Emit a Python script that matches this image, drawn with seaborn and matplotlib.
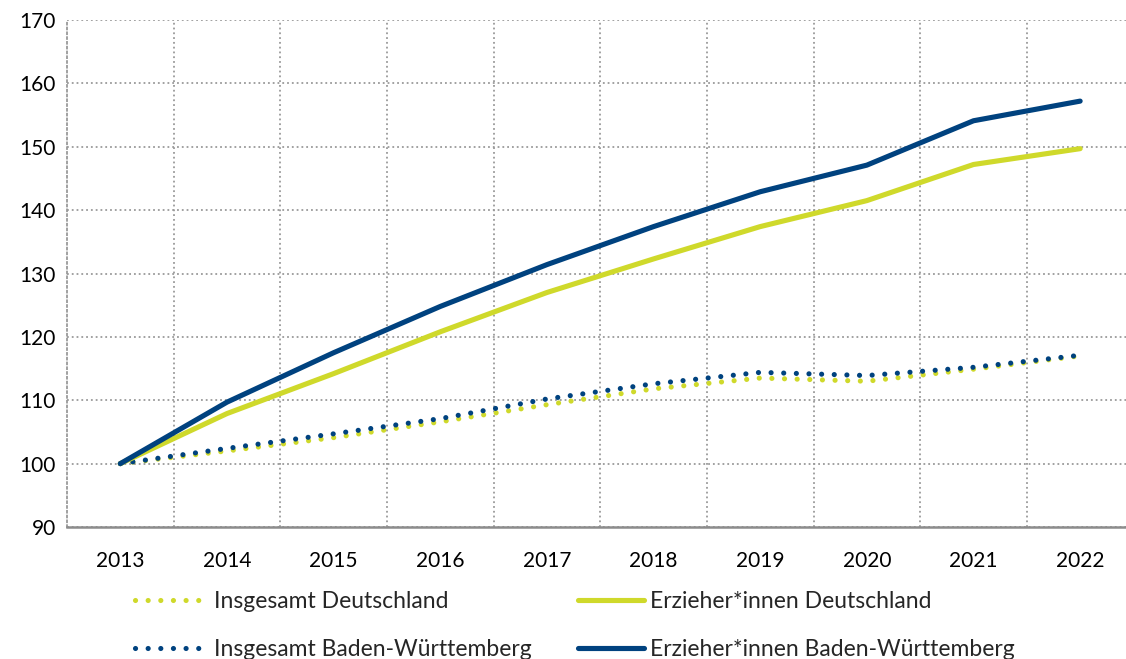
import matplotlib
matplotlib.use("Agg")
import matplotlib.pyplot as plt
import seaborn as sns
import pandas as pd

# ---- Data (index 2013 = 100) ----------------------------------------------
years = [2013, 2014, 2015, 2016, 2017, 2018, 2019, 2020, 2021, 2022]
insgesamt_de = [100, 102.0, 104.1, 106.6, 109.3, 111.8, 113.5, 113.0, 114.9, 117.0]
insgesamt_bw = [100, 102.4, 104.7, 107.1, 110.2, 112.6, 114.4, 113.9, 115.2, 117.1]
erzieher_de = [100, 107.9, 114.2, 120.8, 127.0, 132.3, 137.4, 141.5, 147.2, 149.7]
erzieher_bw = [100, 109.7, 117.5, 124.8, 131.4, 137.4, 142.9, 147.1, 154.1, 157.2]

yellow = "#CFD92B"
blue = "#00427F"

sns.set_style("white")
plt.rcParams["font.family"] = ["Lato", "DejaVu Sans"]

fig = plt.figure(figsize=(11.26, 6.59), dpi=100)
ax = fig.add_axes([67 / 1126, 132 / 659, (1126 - 67) / 1126, 507 / 659])

dotted = (0, (0.01, 2.45))
series = [
    ("Insgesamt Deutschland", insgesamt_de, yellow, dotted),
    ("Insgesamt Baden-Württemberg", insgesamt_bw, blue, dotted),
    ("Erzieher*innen Deutschland", erzieher_de, yellow, "-"),
    ("Erzieher*innen Baden-Württemberg", erzieher_bw, blue, "-"),
]

handles = {}
for name, vals, col, ls in series:
    df = pd.DataFrame({"Jahr": years, "Index": vals})
    sns.lineplot(data=df, x="Jahr", y="Index", ax=ax, color=col,
                 linewidth=3.7, linestyle=ls, label=name, legend=False)
    line = ax.lines[-1]
    line.set_dash_capstyle("round")
    line.set_solid_capstyle("round")
    handles[name] = line

# ---- Axes styling -----------------------------------------------------------
ax.set_xlim(years[0] - 0.5, years[-1] + 0.43)
ax.set_ylim(90, 170)
ax.set_yticks(range(90, 171, 10))
ax.set_xticks(years)
ax.set_xticks([y + 0.5 for y in years[:-1]], minor=True)
ax.set_xlabel("")
ax.set_ylabel("")

ax.grid(False)
ax.yaxis.grid(True, which="major", linestyle=":", color="#9A9A9A", linewidth=1.3)
ax.xaxis.grid(True, which="minor", linestyle=":", color="#9A9A9A", linewidth=1.3)
ax.set_axisbelow(True)

for s in ["top", "right"]:
    ax.spines[s].set_visible(False)
ax.spines["left"].set_linestyle(":")
ax.spines["left"].set_color("#9A9A9A")
ax.spines["left"].set_linewidth(1.3)
ax.spines["bottom"].set_color("#8C8C8C")
ax.spines["bottom"].set_linewidth(1.8)

ax.tick_params(axis="both", which="both", length=0, labelsize=15, colors="black")
ax.tick_params(axis="x", pad=17)
ax.tick_params(axis="y", pad=8)

# ---- Legend (two columns placed separately) --------------------------------
leg_kw = dict(frameon=False, fontsize=16.5, handlelength=2.9, borderpad=0,
              borderaxespad=0, labelspacing=1.2, loc="upper left")
leg1 = fig.legend([handles["Insgesamt Deutschland"], handles["Insgesamt Baden-Württemberg"]],
                  ["Insgesamt Deutschland", "Insgesamt Baden-Württemberg"],
                  bbox_to_anchor=(135 / 1126, 1 - 591 / 659), handletextpad=0.55, **leg_kw)
leg2 = fig.legend([handles["Erzieher*innen Deutschland"], handles["Erzieher*innen Baden-Württemberg"]],
                  ["Erzieher*innen Deutschland", "Erzieher*innen Baden-Württemberg"],
                  bbox_to_anchor=(578 / 1126, 1 - 591 / 659), handletextpad=0.25, **leg_kw)

fig.savefig("out.png", dpi=100)
